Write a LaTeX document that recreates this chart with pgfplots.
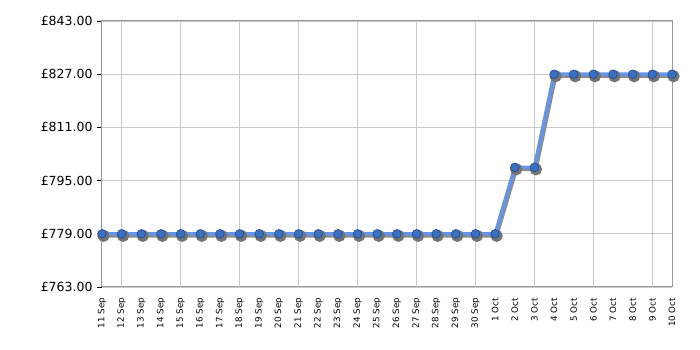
\documentclass[border=0pt]{standalone}
\usepackage{pgfplots}
\pgfplotsset{compat=1.18}
\usetikzlibrary{calc}
\usepackage{fontspec}
\setmainfont{DejaVu Sans}
\definecolor{gridc}{HTML}{C8C8C8}
\definecolor{axc}{HTML}{999999}
\definecolor{linec}{HTML}{6495E8}
\definecolor{markc}{HTML}{3A70C4}
\definecolor{markd}{HTML}{1F4A8A}
\begin{document}
\begin{tikzpicture}[x=1bp,y=1bp]
\begin{axis}[
  scale only axis,
  width=570bp, height=266bp,
  xmin=0, xmax=29,
  ymin=763, ymax=843,
  ytick={763,779,795,811,827,843},
  yticklabel={£\pgfmathprintnumber[fixed,fixed zerofill,precision=2]{\tick}},
  /pgf/number format/assume math mode=true,
  yticklabel style={font=\fontsize{12.5bp}{12.5bp}\selectfont, xshift=-1bp},
  xtick={0,...,29},
  xticklabels={11 Sep,12 Sep,13 Sep,14 Sep,15 Sep,16 Sep,17 Sep,18 Sep,19 Sep,20 Sep,21 Sep,22 Sep,23 Sep,24 Sep,25 Sep,26 Sep,27 Sep,28 Sep,29 Sep,30 Sep,1 Oct,2 Oct,3 Oct,4 Oct,5 Oct,6 Oct,7 Oct,8 Oct,9 Oct,10 Oct},
  xticklabel style={rotate=90, anchor=east, font=\fontsize{8.7bp}{8.7bp}\selectfont},
  xticklabel shift=2.5bp,
  x tick style={draw=none},
  extra x ticks={1,4,7,10,13,16,19,22,25,28},
  extra x tick labels={},
  extra x tick style={grid=major, tick style={draw=black, line width=0.8bp}, major tick length=5bp, tick align=outside},
  ymajorgrids,
  grid style={gridc, line width=0.8bp},
  y tick style={draw=black, line width=0.8bp},
  major tick length=5bp,
  tick align=outside,
  tick pos=left,
  axis line style={axc, line width=1bp},
  clip=false,
]
\pgfplotstableread{
x y
0 779
1 779
2 779
3 779
4 779
5 779
6 779
7 779
8 779
9 779
10 779
11 779
12 779
13 779
14 779
15 779
16 779
17 779
18 779
19 779
20 779
21 799
22 799
23 827
24 827
25 827
26 827
27 827
28 827
29 827
}\data
\addplot[color=black!45, line width=3.5bp, shift={(1.5bp,-2bp)}, mark=*, mark size=4.3bp, mark options={fill=black!55, draw=black!55}] table {\data};
\addplot[color=linec, line width=3.5bp, mark=*, mark size=4.3bp, mark options={fill=markc, draw=markd, line width=0.6bp}] table {\data};
\coordinate (sw) at (rel axis cs:0,0);
\coordinate (ne) at (rel axis cs:1,1);
\end{axis}
\useasboundingbox ($(sw)+(-102bp,-63bp)$) rectangle ($(ne)+(28bp,21bp)$);
\end{tikzpicture}
\end{document}
